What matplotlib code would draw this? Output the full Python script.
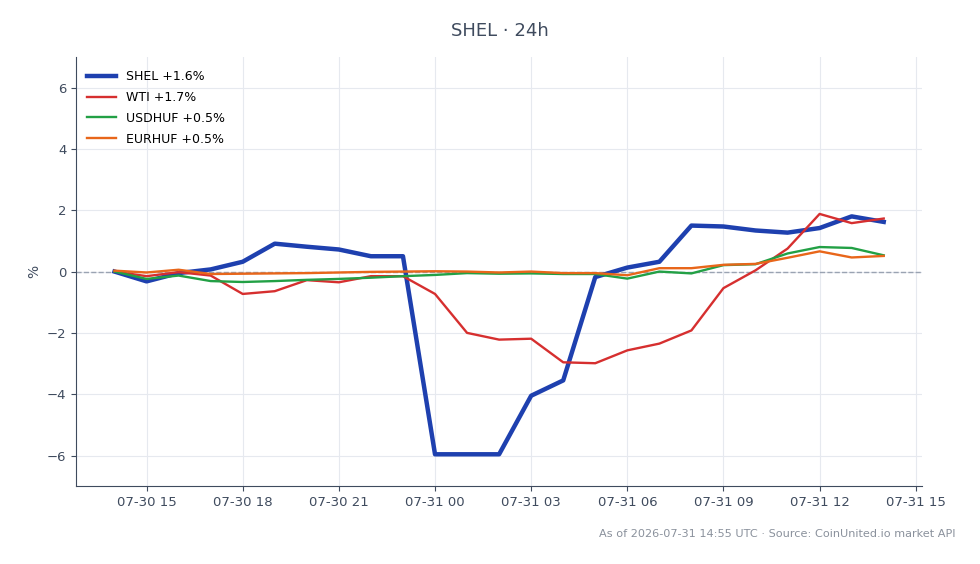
import matplotlib
matplotlib.use("Agg")
import matplotlib.pyplot as plt
import matplotlib.dates as mdates
import pandas as pd

# 24h hourly changes (%), 07-30 14:00 -> 07-31 14:00
times = pd.date_range("2026-07-30 14:00", "2026-07-31 14:00", freq="h")

shel = [0.0, -0.32, -0.05, 0.07, 0.32, 0.91, 0.81, 0.72, 0.5, 0.5,
        -5.96, -5.96, -5.96, -4.05, -3.55, -0.18, 0.13, 0.32, 1.5, 1.47,
        1.34, 1.27, 1.42, 1.8, 1.62]
wti = [0.0, -0.15, -0.02, -0.13, -0.73, -0.64, -0.28, -0.35, -0.15, -0.15,
       -0.73, -2.0, -2.22, -2.19, -2.96, -2.99, -2.57, -2.35, -1.92, -0.54,
       0.04, 0.75, 1.88, 1.58, 1.73]
usdhuf = [0.0, -0.24, -0.13, -0.31, -0.34, -0.31, -0.27, -0.24, -0.2, -0.15,
          -0.11, -0.05, -0.07, -0.06, -0.08, -0.08, -0.23, 0.0, -0.06, 0.21,
          0.24, 0.59, 0.8, 0.77, 0.53]
eurhuf = [0.03, -0.03, 0.06, -0.08, -0.07, -0.06, -0.05, -0.03, -0.01, 0.0,
          0.01, 0.0, -0.03, 0.0, -0.05, -0.05, -0.12, 0.11, 0.11, 0.22,
          0.25, 0.45, 0.66, 0.46, 0.51]

series = [
    ("SHEL +1.6%", shel, "#1e40af", 3.2),
    ("WTI +1.7%", wti, "#d62f2f", 1.7),
    ("USDHUF +0.5%", usdhuf, "#22a045", 1.7),
    ("EURHUF +0.5%", eurhuf, "#e8661a", 1.7),
]

txt = "#3f4b5e"

fig = plt.figure(figsize=(9.8, 5.64), dpi=100)
ax = fig.add_axes([0.0776, 0.138, 0.8634, 0.761])

ax.axhline(0, color="#9aa3b2", linestyle="--", linewidth=1.0, zorder=1)
for label, vals, color, lw in series:
    ax.plot(times, vals, color=color, linewidth=lw, label=label, zorder=3)

ax.set_ylim(-7, 7)
ax.set_yticks([-6, -4, -2, 0, 2, 4, 6])
ax.set_yticklabels(["\u22126", "\u22124", "\u22122", "0", "2", "4", "6"])
ax.xaxis.set_major_locator(mdates.HourLocator(byhour=[0, 3, 6, 9, 12, 15, 18, 21]))
ax.xaxis.set_major_formatter(mdates.DateFormatter("%m-%d %H"))

ax.grid(True, color="#e6e9ef", linewidth=0.8)
ax.set_axisbelow(True)
for s in ("top", "right"):
    ax.spines[s].set_visible(False)
for s in ("left", "bottom"):
    ax.spines[s].set_color(txt)
ax.tick_params(colors=txt, labelsize=9.5)
ax.set_ylabel("%", color=txt, fontsize=10)

ax.legend(loc="upper left", frameon=False, fontsize=9, handlelength=2.3,
          labelspacing=0.62, bbox_to_anchor=(0, 0.995))

fig.text(0.51, 0.945, "SHEL \u00b7 24h", ha="center", va="center",
         fontsize=13, color=txt)
fig.text(0.975, 0.053, "As of 2026-07-31 14:55 UTC \u00b7 Source: CoinUnited.io market API",
         ha="right", va="center", fontsize=8.1, color="#8a919c")

fig.savefig("out.png", dpi=100)
